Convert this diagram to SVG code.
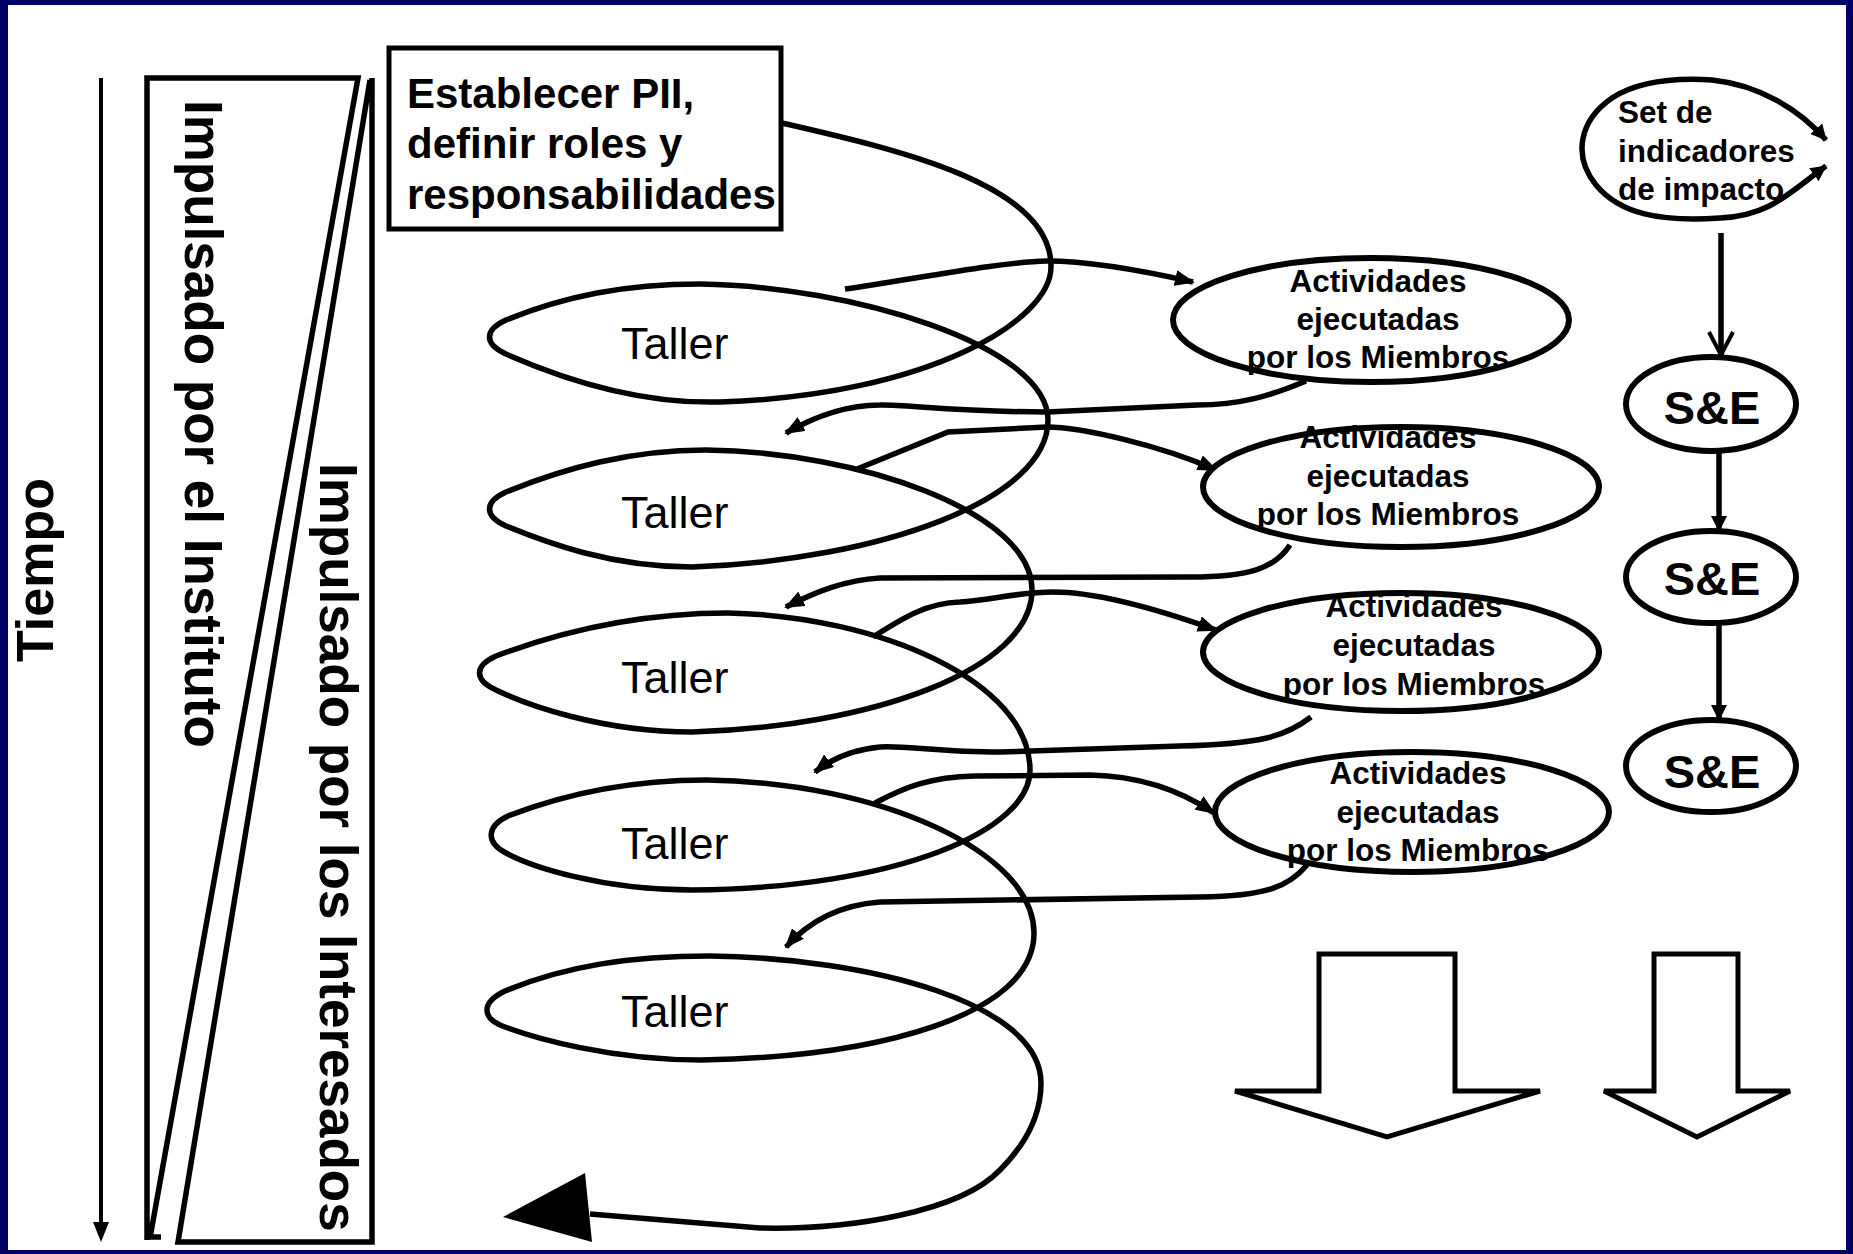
<svg xmlns="http://www.w3.org/2000/svg" width="1853" height="1254" viewBox="0 0 1853 1254">
<style>
text{font-family:"Liberation Sans",Arial,Helvetica,sans-serif;fill:#000}
.b{font-weight:bold}
.ln{fill:none;stroke:#000;stroke-width:5.5}
.sh{fill:#fff;stroke:#000;stroke-width:6}
.bx{fill:#fff;stroke:#000;stroke-width:5}
.act{font-size:31.5px;font-weight:bold;text-anchor:middle}
.se{font-size:47px;font-weight:bold;text-anchor:middle}
.tal{font-size:45px}
</style>
<defs>
<marker id="ah" viewBox="0 0 20 16" refX="18" refY="8" markerWidth="20" markerHeight="16" orient="auto" markerUnits="userSpaceOnUse"><path d="M0,0 L20,8 L0,16 z"/></marker>
<marker id="ahs" viewBox="0 0 16 16" refX="15" refY="8" markerWidth="16" markerHeight="16" orient="auto-start-reverse" markerUnits="userSpaceOnUse"><path d="M0,0 L16,8 L0,16 z"/></marker>
<marker id="open" viewBox="0 0 28 28" refX="25" refY="14" markerWidth="28" markerHeight="28" orient="auto" markerUnits="userSpaceOnUse"><path d="M2,2 L25,14 L2,26" fill="none" stroke="#000" stroke-width="4"/></marker>
</defs>
<rect x="0" y="0" width="1853" height="1254" fill="#000066"/>
<rect x="8" y="5" width="1838" height="1245" fill="#fff"/>

<g id="tiempo">
<line x1="101" y1="78" x2="101" y2="1225" stroke="#000" stroke-width="4"/>
<path d="M93,1222 L109,1222 L101,1242 z"/>
<text class="b" font-size="52" transform="translate(53,662) rotate(-90)">Tiempo</text>
</g>

<g id="impulsado-instituto">
<path class="ln" stroke-width="5" d="M147,1240 V78 H358 L150,1238 M147,1237 H161"/>
<text class="b" font-size="53" transform="translate(185,100) rotate(90)">Impulsado por el Instituto</text>
</g>

<g id="impulsado-interesados">
<path class="ln" stroke-width="5" d="M372,78 V1242 H178 L370,80"/>
<text class="b" font-size="53" transform="translate(320,463) rotate(90)">Impulsado por los Interesados</text>
</g>

<g id="establecer">
<rect class="bx" x="389" y="48" width="392" height="181"/>
<text class="b" font-size="42" x="407" y="108">Establecer PII,</text>
<text class="b" font-size="42" x="407" y="158">definir roles y</text>
<text class="b" font-size="42" x="407" y="209">responsabilidades</text>
</g>

<g id="connectors">
<path id="coil" class="ln" stroke-linejoin="round" d="M782,123 C900,150 1052,185 1051,267 C1051,320 930,395 720,402 C640,404 565,380 506,354 C484,344 484,330 506,320 C565,296 625,284 700,284 C850,286 1048,345 1048,420 C1048,500 880,560 692,567 C610,567 545,542 506,526 C484,516 484,502 506,492 C565,468 630,450 706,450 C860,452 1032,512 1032,590 C1032,670 870,727 692,732 C600,732 525,704 496,690 C474,680 474,666 496,656 C565,630 640,613 728,613 C880,616 1030,682 1030,770 C1030,830 900,888 692,890 C600,890 530,866 506,853 C485,842 487,826 508,816 C575,790 640,780 706,780 C880,782 1034,852 1034,933 C1034,1015 880,1057 701,1060 C610,1060 535,1038 505,1027 C480,1018 482,1002 505,991 C565,966 630,956 710,956 C870,958 1041,1003 1041,1083 C1041,1120 1020,1150 1000,1170 C960,1212 850,1230 760,1228 L590,1214"/>
<path d="M503,1217 L585,1173 L592,1242 z"/>
<path class="ln" marker-end="url(#ah)" d="M845,289 C920,278 1000,262 1047,261 C1090,261 1140,270 1193,282"/>
<path class="ln" marker-end="url(#ah)" d="M1306,381 C1270,396 1240,405 1197,405 L1047,412 C960,412 900,404 880,405 C845,405 812,418 786,433"/>
<path class="ln" marker-end="url(#ah)" d="M857,469 L948,432 L1047,427 C1080,427 1160,445 1216,470"/>
<path class="ln" marker-end="url(#ah)" d="M1290,545 C1275,568 1250,577 1190,577 L880,578 C845,580 815,592 786,607"/>
<path class="ln" marker-end="url(#ah)" d="M873,637 C900,620 925,603 960,602 C990,600 1020,592 1053,592 C1100,592 1160,610 1216,630"/>
<path class="ln" marker-end="url(#ah)" d="M1311,717 C1285,737 1260,744 1180,746 L1000,752 C940,752 900,745 880,747 C850,750 830,760 815,772"/>
<path class="ln" marker-end="url(#ah)" d="M875,803 C905,787 930,777 975,776 L1090,775 C1140,776 1180,790 1214,813"/>
<path class="ln" marker-end="url(#ah)" d="M1307,865 C1290,885 1270,896 1200,897 L880,902 C840,905 810,920 786,947"/>
<path class="ln" marker-end="url(#open)" d="M1721,233 V355"/>
<path class="ln" marker-end="url(#ahs)" d="M1719,451 V531"/>
<path class="ln" marker-end="url(#ahs)" d="M1719,623 V720"/>
</g>

<g id="taller1"><text class="tal" x="621" y="359">Taller</text></g>
<g id="taller2"><text class="tal" x="621" y="528">Taller</text></g>
<g id="taller3"><text class="tal" x="621" y="693">Taller</text></g>
<g id="taller4"><text class="tal" x="621" y="859">Taller</text></g>
<g id="taller5"><text class="tal" x="621" y="1027">Taller</text></g>

<g id="actividades1">
<ellipse class="sh" cx="1371" cy="320" rx="198" ry="62"/>
<text class="act" x="1378" y="292">Actividades</text>
<text class="act" x="1378" y="330">ejecutadas</text>
<text class="act" x="1378" y="368">por los Miembros</text>
</g>
<g id="actividades2">
<ellipse class="sh" cx="1401" cy="487" rx="198" ry="60"/>
<text class="act" x="1388" y="448">Actividades</text>
<text class="act" x="1388" y="487">ejecutadas</text>
<text class="act" x="1388" y="525">por los Miembros</text>
</g>
<g id="actividades3">
<ellipse class="sh" cx="1401" cy="652" rx="198" ry="59"/>
<text class="act" x="1414" y="617">Actividades</text>
<text class="act" x="1414" y="656">ejecutadas</text>
<text class="act" x="1414" y="695">por los Miembros</text>
</g>
<g id="actividades4">
<ellipse class="sh" cx="1412" cy="812" rx="197" ry="60"/>
<text class="act" x="1418" y="784">Actividades</text>
<text class="act" x="1418" y="823">ejecutadas</text>
<text class="act" x="1418" y="861">por los Miembros</text>
</g>

<g id="set-indicadores">
<path class="ln" marker-start="url(#ahs)" marker-end="url(#ahs)" d="M1826,166 C1790,192 1770,216 1720,218 C1660,222 1620,214 1596,185 C1572,155 1580,120 1612,98 C1640,80 1680,78 1712,80 C1760,85 1800,110 1826,140"/>
<text class="b" font-size="31.5" x="1618" y="123">Set de</text>
<text class="b" font-size="31.5" x="1618" y="162">indicadores</text>
<text class="b" font-size="31.5" x="1618" y="200">de impacto</text>
</g>

<g id="se1"><ellipse class="sh" cx="1711" cy="404" rx="85" ry="47"/><text class="se" x="1712" y="424">S&amp;E</text></g>
<g id="se2"><ellipse class="sh" cx="1711" cy="577" rx="85" ry="46"/><text class="se" x="1712" y="595">S&amp;E</text></g>
<g id="se3"><ellipse class="sh" cx="1711" cy="766" rx="85" ry="46"/><text class="se" x="1712" y="788">S&amp;E</text></g>

<g id="flecha-grande"><path class="bx" d="M1319,954 H1455 V1091 H1540 L1387,1137 L1235,1091 H1319 Z"/></g>
<g id="flecha-pequena"><path class="bx" d="M1654,954 H1738 V1091 H1790 L1697,1137 L1604,1091 H1654 Z"/></g>
</svg>
